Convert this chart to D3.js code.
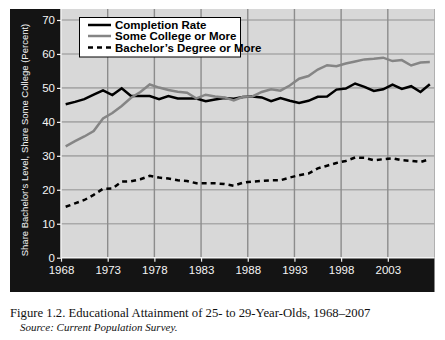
<!DOCTYPE html>
<html>
<head>
<meta charset="utf-8">
<script src="https://cdn.jsdelivr.net/npm/d3@7"></script>
<style>
  html, body { margin: 0; padding: 0; background: #fff; }
  svg { display: block; }
</style>
</head>
<body>
<svg id="chart" width="445" height="340"></svg>
<script>
// ---- Data ----
const years = d3.range(1968, 2008);
const completionRate = [45.2, 45.9, 46.7, 48.0, 49.3, 47.9, 49.9, 47.6, 47.6, 47.6,
                        46.7, 47.6, 46.9, 46.9, 46.9, 46.1, 46.6, 47.0, 46.8, 47.3,
                        47.5, 47.2, 46.1, 47.0, 46.2, 45.6, 46.2, 47.4, 47.5, 49.5,
                        49.8, 51.3, 50.3, 49.1, 49.6, 51.0, 49.7, 50.5, 48.8, 51.1];
const someCollege = [32.8, 34.3, 35.7, 37.3, 41.0, 42.6, 44.7, 47.1, 48.8, 51.0,
                     50.1, 49.4, 48.9, 48.6, 46.9, 48.0, 47.5, 47.2, 46.3, 47.4,
                     47.5, 48.8, 49.6, 49.2, 50.7, 52.7, 53.5, 55.4, 56.7, 56.4,
                     57.2, 57.8, 58.4, 58.6, 58.9, 57.9, 58.2, 56.6, 57.5, 57.6];
const bachelors = [15.0, 16.0, 17.0, 18.5, 20.3, 20.4, 22.4, 22.5, 23.1, 24.1,
                   23.6, 23.3, 22.8, 22.6, 21.9, 21.9, 21.9, 21.7, 21.2, 22.1,
                   22.4, 22.6, 22.8, 22.8, 23.6, 24.3, 24.8, 26.3, 27.1, 27.9,
                   28.5, 29.5, 29.4, 28.7, 29.0, 29.3, 28.7, 28.5, 28.2, 29.0];
const seriesNames = ["Completion Rate", "Some College or More", "Bachelor\u2019s Degree or More"];
const xTicks = [1968, 1973, 1978, 1983, 1988, 1993, 1998, 2003];
const yTicks = [0, 10, 20, 30, 40, 50, 60, 70];
const yLabel = "Share Bachelor\u2019s Level, Share Some College (Percent)";
const caption = "Figure 1.2.  Educational Attainment of 25- to 29-Year-Olds, 1968\u20132007";
const source = "Source: Current Population Survey.";

// ---- Layout ----
const svg = d3.select("#chart");
const panel = {x: 10, y: 9, w: 424.5, h: 283};
const plot = {left: 61, right: 434.5, top: 9, bottom: 257.7};

const x = d3.scaleLinear().domain([1968, 2008]).range([plot.left, plot.right]);
const y = d3.scaleLinear().domain([0, 70]).range([plot.bottom, 20]);

// black panel
svg.append("rect").attr("x", panel.x).attr("y", panel.y)
  .attr("width", panel.w).attr("height", panel.h).attr("fill", "#141414");

// plot background
svg.append("rect").attr("x", plot.left).attr("y", plot.top)
  .attr("width", plot.right - plot.left).attr("height", plot.bottom - plot.top)
  .attr("fill", "#d8d8d8");

// horizontal grid
svg.append("g").selectAll("line").data(yTicks.filter(d => d > 0)).join("line")
  .attr("x1", plot.left).attr("x2", plot.right)
  .attr("y1", d => y(d)).attr("y2", d => y(d))
  .attr("stroke", "#a9a9a9").attr("stroke-width", 1.6);

// vertical grid
svg.append("g").selectAll("line").data(xTicks.filter(d => d > 1968)).join("line")
  .attr("x1", d => x(d)).attr("x2", d => x(d))
  .attr("y1", plot.top).attr("y2", plot.bottom)
  .attr("stroke", "#8c8c8c").attr("stroke-width", 1.4);

// axes
const fontSans = "'Liberation Sans', Arial, Helvetica, sans-serif";
const yAxis = svg.append("g").attr("transform", `translate(${plot.left},0)`)
  .call(d3.axisLeft(y).tickValues(yTicks).tickSize(4).tickPadding(2));
const xAxis = svg.append("g").attr("transform", `translate(0,${plot.bottom})`)
  .call(d3.axisBottom(x).tickValues(xTicks).tickFormat(d3.format("d")).tickSize(4).tickPadding(4.5));
[yAxis, xAxis].forEach(g => {
  g.select(".domain").attr("stroke", "#f2f2f2").attr("stroke-width", 1.5);
  g.selectAll(".tick line").attr("stroke", "#f2f2f2").attr("stroke-width", 1.2);
  g.selectAll(".tick text").attr("fill", "#f4f4f4")
    .style("font-family", fontSans).style("font-size", "11.5px");
});
xAxis.select(".domain").attr("d", `M${plot.left},0H${plot.right}`);
yAxis.select(".domain").attr("d", `M0,${plot.bottom}V${plot.top}`);

// y label
svg.append("text")
  .attr("transform", `translate(25,${140}) rotate(-90)`)
  .attr("text-anchor", "middle").attr("dominant-baseline", "middle")
  .attr("fill", "#f4f4f4")
  .style("font-family", fontSans).style("font-size", "9.5px")
  .text(yLabel);

// lines
const xm = d => x(d + 0.5);
const line = vals => d3.line().x((d, i) => xm(years[i])).y(d => y(d))(vals);

const styles = [
  {data: completionRate, color: "#000", dash: null},
  {data: someCollege, color: "#858585", dash: null},
  {data: bachelors, color: "#000", dash: "5,4"}
];
styles.forEach(s => {
  svg.append("path").attr("d", line(s.data))
    .attr("fill", "none").attr("stroke", s.color).attr("stroke-width", 2.5)
    .attr("stroke-linejoin", "miter")
    .attr("stroke-dasharray", s.dash);
});

// legend
const lg = svg.append("g");
lg.append("rect").attr("x", 79.5).attr("y", 17.5).attr("width", 161).attr("height", 39.5)
  .attr("fill", "#fff").attr("stroke", "#000").attr("stroke-width", 1);
const rowY = [25, 36, 47.5];
styles.forEach((s, i) => {
  lg.append("line").attr("x1", 88).attr("x2", 111).attr("y1", rowY[i]).attr("y2", rowY[i])
    .attr("stroke", s.color).attr("stroke-width", 2.5).attr("stroke-dasharray", s.dash);
  lg.append("text").attr("x", 115).attr("y", rowY[i]).attr("dy", "0.35em")
    .attr("fill", "#000")
    .style("font-family", "'Liberation Sans Narrow', 'Arial Narrow', " + fontSans)
    .style("font-size", "11.5px")
    .style("font-weight", "600")
    .text(seriesNames[i]);
});

// caption
svg.append("text").attr("x", 10).attr("y", 317)
  .style("font-family", "'Liberation Serif', 'Times New Roman', serif")
  .style("font-size", "12.7px").attr("fill", "#111")
  .text(caption);
svg.append("text").attr("x", 20).attr("y", 331)
  .style("font-family", "'Liberation Serif', 'Times New Roman', serif")
  .style("font-size", "11px").style("font-style", "italic").attr("fill", "#111")
  .text(source);
</script>
</body>
</html>
